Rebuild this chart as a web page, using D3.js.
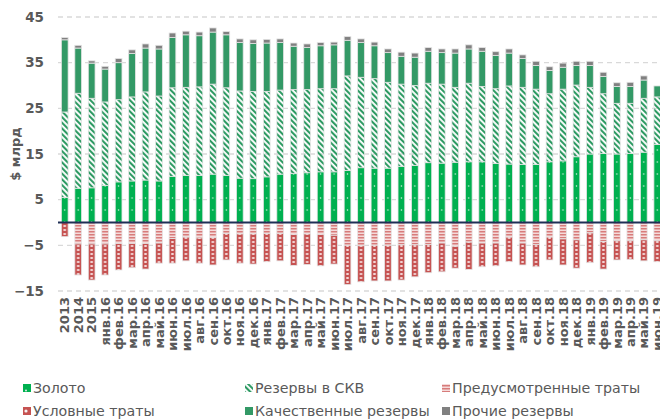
<!DOCTYPE html>
<html>
<head>
<meta charset="utf-8">
<script src="https://cdn.jsdelivr.net/npm/d3@7"></script>
<style>
  html, body { margin: 0; padding: 0; background: #fff; overflow: hidden; }
  svg { display: block; }
</style>
</head>
<body>
<svg id="chart" width="660" height="419"></svg>
<script>
// Периоды по оси X
const categories = [
  "2013", "2014", "2015",
  "янв.16", "фев.16", "мар.16", "апр.16", "май.16", "июн.16", "июл.16", "авг.16", "сен.16", "окт.16", "ноя.16", "дек.16",
  "янв.17", "фев.17", "мар.17", "апр.17", "май.17", "июн.17", "июл.17", "авг.17", "сен.17", "окт.17", "ноя.17", "дек.17",
  "янв.18", "фев.18", "мар.18", "апр.18", "май.18", "июн.18", "июл.18", "авг.18", "сен.18", "окт.18", "ноя.18", "дек.18",
  "янв.19", "фев.19", "мар.19", "апр.19", "май.19", "июн.19"
];

// Активы, $ млрд
const gold = [5.5, 7.5, 7.6, 8.1, 8.9, 9.1, 9.3, 9.1, 10.1, 10.3, 10.3, 10.6, 10.3, 9.7, 9.6,
  10.0, 10.6, 10.7, 10.9, 11.1, 11.1, 11.4, 12.0, 11.9, 11.9, 12.3, 12.5,
  13.1, 13.0, 13.2, 13.3, 13.3, 12.9, 12.8, 12.7, 12.7, 13.3, 13.5, 14.4,
  15.0, 15.1, 15.0, 15.1, 15.4, 17.1];
const fxReserves = [18.7, 20.8, 19.6, 18.3, 18.0, 18.4, 19.3, 18.6, 19.4, 19.3, 19.4, 19.7, 19.2, 19.1, 19.1,
  18.7, 18.4, 18.4, 18.2, 18.2, 18.2, 20.7, 19.8, 19.6, 18.8, 18.0, 17.5,
  17.4, 17.3, 16.4, 17.2, 16.5, 16.4, 17.1, 16.9, 16.5, 14.9, 15.7, 15.7,
  14.6, 13.1, 11.1, 11.0, 11.8, 10.4];
const qualityReserves = [15.8, 9.9, 7.7, 7.2, 8.1, 9.5, 9.6, 10.3, 11.0, 11.5, 11.2, 11.4, 11.6, 10.6, 10.5,
  10.6, 10.4, 9.5, 9.2, 9.4, 9.6, 7.8, 7.6, 7.2, 6.5, 6.1, 6.2,
  7.0, 6.9, 7.5, 7.5, 7.7, 7.3, 7.2, 6.3, 5.2, 5.1, 4.8, 4.3,
  4.8, 3.8, 3.7, 3.7, 4.0, 2.4];
const otherReserves = [0.5, 0.6, 0.5, 0.6, 0.9, 0.8, 0.9, 0.8, 1.0, 0.8, 0.8, 0.9, 0.7, 0.8, 0.8,
  0.8, 0.8, 0.7, 0.8, 0.7, 0.6, 0.8, 0.8, 0.8, 0.8, 0.9, 0.9,
  0.8, 0.8, 0.9, 0.9, 0.8, 0.8, 0.9, 0.8, 0.9, 0.8, 0.9, 0.9,
  0.9, 0.9, 0.8, 0.9, 0.9, 0.0];

// Обязательства, $ млрд (со знаком минус)
const plannedSpending = [0, -4.7, -4.7, -4.7, -4.6, -4.6, -4.6, -4.5, -3.5, -3.2, -3.4, -3.3, -2.4, -2.5, -2.5,
  -2.4, -2.4, -2.6, -2.5, -2.6, -2.8, -5.0, -5.1, -5.0, -5.0, -4.9, -4.9,
  -4.8, -4.5, -5.2, -4.3, -4.5, -4.5, -3.2, -4.5, -4.8, -3.2, -3.6, -3.8,
  -2.3, -4.2, -4.0, -4.0, -3.8, -4.0];
const contingentSpending = [-3.1, -6.8, -7.9, -6.8, -5.8, -5.3, -5.6, -4.4, -5.4, -5.2, -5.5, -6.0, -5.8, -6.4, -6.6,
  -6.2, -6.0, -6.8, -6.7, -6.9, -6.3, -8.6, -7.9, -7.8, -7.8, -7.7, -7.0,
  -6.2, -6.3, -4.8, -6.0, -5.2, -5.0, -5.4, -4.8, -4.9, -5.0, -5.7, -6.2,
  -6.5, -6.0, -4.2, -4.1, -4.6, -4.6];

const yTicks = [-15, -5, 5, 15, 25, 35, 45];

const seriesKeys = ["gold", "fx", "planned", "contingent", "quality", "other"];
const seriesNames = {
  gold: "Золото",
  fx: "Резервы в СКВ",
  planned: "Предусмотренные траты",
  contingent: "Условные траты",
  quality: "Качественные резервы",
  other: "Прочие резервы"
};
const seriesValues = {
  gold: gold, fx: fxReserves, quality: qualityReserves, other: otherReserves,
  planned: plannedSpending, contingent: contingentSpending
};

// Строки таблицы для d3.stack
const rows = categories.map((c, i) => {
  const r = { cat: c };
  seriesKeys.forEach(k => { r[k] = seriesValues[k][i]; });
  return r;
});

const stackOrder = ["gold", "fx", "quality", "other", "planned", "contingent"];
const stacked = d3.stack()
  .keys(stackOrder)
  .offset(d3.stackOffsetDiverging)(rows);

const svg = d3.select("#chart");
const plotLeft = 58, plotRight = 664, plotTop = 17, plotBottom = 291;

const x = d3.scaleBand()
  .domain(categories)
  .range([plotLeft, plotRight])
  .paddingInner(0.5)
  .paddingOuter(0.25);
const y = d3.scaleLinear().domain([-15, 45]).range([plotBottom, plotTop]);

const bw = x.bandwidth();
const step = x.step();
const x0 = x(categories[0]);

const colors = {
  gold: "#00b050",
  fx: "#2e9a63",
  quality: "#339966",
  other: "#808080",
  plannedLine: "#d77c7b",
  plannedBg: "#f5dada",
  contingent: "#c65352"
};

// Штриховки
const defs = svg.append("defs");

const pGold = defs.append("pattern")
  .attr("id", "pat-gold").attr("patternUnits", "userSpaceOnUse")
  .attr("x", x0).attr("y", 0).attr("width", step).attr("height", 12);
pGold.append("rect").attr("width", step).attr("height", 12).attr("fill", colors.gold);
pGold.append("circle").attr("cx", bw / 2).attr("cy", 6).attr("r", 0.75).attr("fill", "#dff5e8");

const pFx = defs.append("pattern")
  .attr("id", "pat-fx").attr("patternUnits", "userSpaceOnUse")
  .attr("width", 4).attr("height", 4)
  .attr("patternTransform", "rotate(-45)");
pFx.append("rect").attr("width", 2.1).attr("height", 4).attr("fill", colors.fx);

const pPlanned = defs.append("pattern")
  .attr("id", "pat-planned").attr("patternUnits", "userSpaceOnUse")
  .attr("width", 4).attr("height", 3);
pPlanned.append("rect").attr("width", 4).attr("height", 3).attr("fill", colors.plannedBg);
pPlanned.append("rect").attr("width", 4).attr("height", 1.5).attr("fill", colors.plannedLine);

const pCont = defs.append("pattern")
  .attr("id", "pat-contingent").attr("patternUnits", "userSpaceOnUse")
  .attr("x", x0).attr("y", 0).attr("width", step).attr("height", 4);
pCont.append("rect").attr("width", step).attr("height", 4).attr("fill", colors.contingent);
pCont.append("ellipse").attr("cx", bw / 2).attr("cy", 2).attr("rx", 1.5).attr("ry", 1.1).attr("fill", "#f6dede");

const fills = {
  gold: "url(#pat-gold)",
  fx: "url(#pat-fx)",
  quality: colors.quality,
  other: colors.other,
  planned: "url(#pat-planned)",
  contingent: "url(#pat-contingent)"
};

// Сетка
const grid = svg.append("g").attr("class", "grid");
grid.selectAll("line").data(yTicks).join("line")
  .attr("x1", plotLeft).attr("x2", plotRight)
  .attr("y1", d => y(d)).attr("y2", d => y(d))
  .attr("stroke", "#d9d9d9").attr("stroke-width", 1.3)
  .attr("stroke-dasharray", "5,4");

// Ось Y
const yAxis = svg.append("g")
  .attr("transform", `translate(${plotLeft},0)`)
  .call(d3.axisLeft(y).tickValues(yTicks).tickSize(0).tickPadding(14));
yAxis.select(".domain").remove();
yAxis.selectAll("text")
  .attr("font-family", "DejaVu Sans, Verdana, sans-serif")
  .attr("font-size", 13.5).attr("font-weight", "bold").attr("fill", "#595959");

svg.append("text")
  .attr("transform", `translate(15,${(plotTop + plotBottom) / 2}) rotate(-90)`)
  .attr("text-anchor", "middle").attr("dy", "0.35em")
  .attr("font-family", "DejaVu Sans, Verdana, sans-serif")
  .attr("font-size", 13).attr("font-weight", "bold").attr("fill", "#595959")
  .text("$ млрд");

// Столбцы
const layers = svg.append("g").attr("class", "bars")
  .selectAll("g").data(stacked).join("g")
  .attr("fill", d => fills[d.key]);
layers.selectAll("rect").data(d => d).join("rect")
  .attr("x", d => x(d.data.cat))
  .attr("width", bw)
  .attr("y", d => y(Math.max(d[0], d[1])))
  .attr("height", d => Math.abs(y(d[0]) - y(d[1])))
  .attr("stroke", "#e4e4e4").attr("stroke-width", 0.8);

// Нулевая линия
svg.append("line")
  .attr("x1", plotLeft).attr("x2", plotRight)
  .attr("y1", y(0)).attr("y2", y(0))
  .attr("stroke", "#1f2f55").attr("stroke-width", 2);

// Ось X
const xAxis = svg.append("g")
  .attr("transform", `translate(0,${plotBottom})`)
  .call(d3.axisBottom(x).tickSize(0));
xAxis.select(".domain").remove();
xAxis.selectAll("text")
  .attr("transform", "rotate(-90)")
  .attr("text-anchor", "end")
  .attr("x", -6).attr("y", 0).attr("dy", "0.36em")
  .attr("font-family", "DejaVu Sans, Verdana, sans-serif")
  .attr("font-size", 13).attr("font-weight", "bold").attr("fill", "#595959");

// Легенда
const legendCols = [23, 245, 442];
const legendRows = [388, 411];
const legend = svg.append("g").attr("class", "legend");
seriesKeys.forEach((k, i) => {
  const gx = legendCols[i % 3], gy = legendRows[Math.floor(i / 3)];
  const g = legend.append("g").attr("transform", `translate(${gx},${gy})`);
  if (k === "gold" || k === "contingent") {
    g.append("rect").attr("x", 0).attr("y", -4).attr("width", 8).attr("height", 8)
      .attr("fill", k === "gold" ? colors.gold : colors.contingent);
    g.append("circle").attr("cx", 3).attr("cy", k === "gold" ? 2.5 : 0).attr("r", k === "gold" ? 0.9 : 1.6)
      .attr("fill", "#f4f4f4");
  } else {
    g.append("rect").attr("x", 0).attr("y", -4).attr("width", 8).attr("height", 8)
      .attr("fill", fills[k]);
  }
  g.append("text")
    .attr("x", 10).attr("y", 0).attr("dy", "0.35em")
    .attr("font-family", "DejaVu Sans, Verdana, sans-serif")
    .attr("font-size", 14.2).attr("fill", "#595959")
    .text(seriesNames[k]);
});
</script>
</body>
</html>
